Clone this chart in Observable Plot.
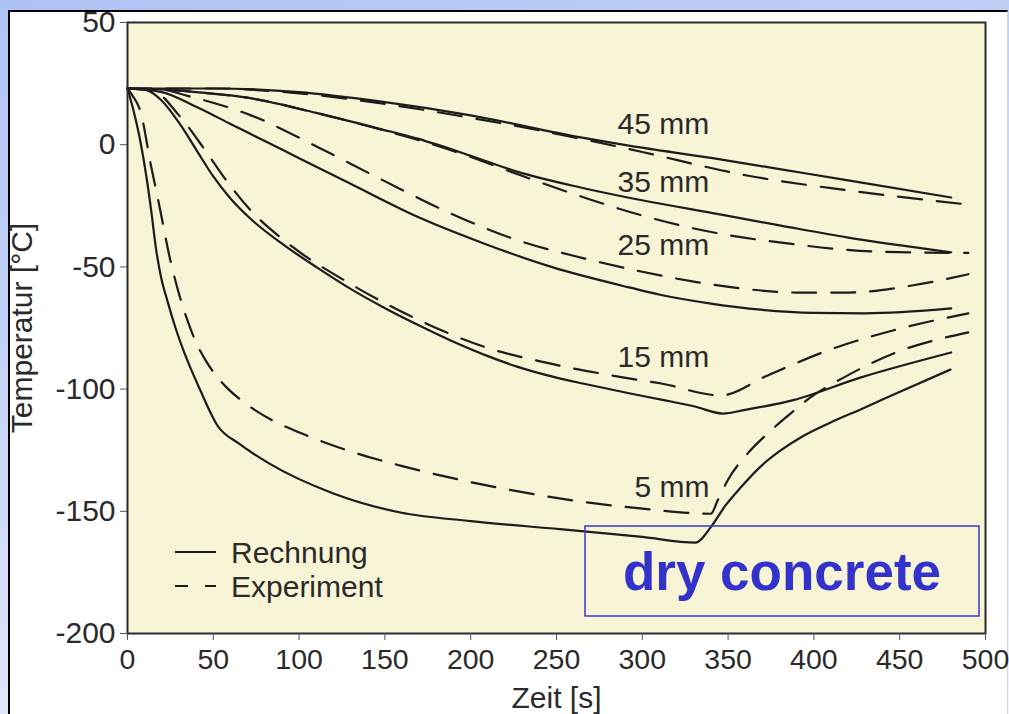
<!DOCTYPE html>
<html>
<head>
<meta charset="utf-8">
<script src="https://cdn.jsdelivr.net/npm/d3@7"></script>
<script src="https://cdn.jsdelivr.net/npm/@observablehq/plot@0.6"></script>
<style>
  html, body { margin: 0; padding: 0; }
  body {
    width: 1009px; height: 714px; overflow: hidden; position: relative;
    background: linear-gradient(165deg, #aec3f5 0%, #c9d7f8 45%, #f3f6fe 100%);
    font-family: "Liberation Sans", Arial, sans-serif;
  }
  #panel {
    position: absolute; left: 8px; top: 10px; width: 997px; height: 720px;
    background: #ffffff; border-left: 2.5px solid #000; border-top: 2.5px solid #000;
    border-right: 1px solid #d6d6d6;
  }
  #chart { position: absolute; left: 0; top: 0; }
</style>
</head>
<body>
<div id="panel"></div>
<div id="chart"></div>
<script>
// ---- data (time in s, temperature in °C) ----
const xTicks = [0, 50, 100, 150, 200, 250, 300, 350, 400, 450, 500];
const yTicks = [-200, -150, -100, -50, 0, 50];

const t5Calc = [0, 3.5, 7.6, 11, 14, 16.5, 19.5, 23.3, 28, 32.6, 42.5, 52.5, 65, 82, 120, 159, 200, 252, 300, 331, 339.8, 348.5, 357.3, 368.9, 380.6, 392.3, 409.7, 427.2, 450.5, 479.6];
const T5Calc = [23, 14, 1, -13, -28, -42, -54, -64, -75, -84.2, -100.6, -115, -122.3, -130.2, -142.7, -150.5, -154, -157.3, -160.5, -162.8, -156.6, -147.6, -140.3, -131.7, -125.1, -119.8, -113.7, -108.3, -101, -92];
const t5Exp = [0, 3, 7.6, 13.8, 18, 25, 30, 35, 40, 44.5, 50, 58, 70, 85, 101, 134, 159, 210, 260, 300, 340, 343.9, 349.7, 361.3, 373, 386.4, 398, 417.3, 446.4, 490];
const T5Exp = [23, 20, 13.5, -9, -23, -47.4, -61, -72, -81, -87, -93, -99.5, -106.5, -113, -118, -126.4, -131.3, -139.5, -145.6, -148.9, -151, -145.6, -137.4, -126.4, -118.2, -110, -103.4, -95.3, -85.4, -76.8];

const t15Calc = [0, 10, 20, 30, 40, 50, 60, 72, 91, 111, 130, 149, 170, 188, 210, 227, 250, 266, 293, 311, 330, 347, 360, 388, 427, 480];
const T15Calc = [23, 22.5, 18, 9, -2, -13, -22, -30.5, -41, -50.5, -59, -66.5, -74, -80, -86.5, -90.8, -95.3, -97.8, -101.8, -104.3, -107, -110, -108.5, -104.5, -95.3, -85];
const t15Exp = [0, 15, 30, 45, 58, 72, 91, 130, 169, 207, 246, 293, 311, 345.6, 373, 408, 446, 490];
const T15Exp = [23, 22, 12, -2, -15, -27, -39, -57, -71.5, -82.5, -89.5, -95.7, -97.7, -102.6, -94.4, -84.2, -76, -69];

const t25Calc = [0, 20, 40, 60, 80, 100, 130, 169, 208, 247, 293, 311, 340, 369, 400, 430, 480];
const T25Calc = [23, 21.5, 15.5, 8.5, 1.5, -5.5, -16, -29.5, -40.5, -50, -58.5, -61.5, -65, -67.5, -68.8, -69, -67];
const t25Exp = [0, 20, 35, 72, 111, 149, 188, 227, 266, 300, 330, 360, 390, 420, 458, 490];
const T25Exp = [23, 22.5, 20, 12, -1, -14.6, -28, -39, -46.5, -52, -56, -59, -60.5, -60.5, -57.5, -53];

const t35Calc = [0, 15, 40, 72, 110, 147, 169, 200, 227, 264, 293, 341, 380, 420, 480];
const T35Calc = [23, 22.8, 21.5, 19, 13, 6.5, 2.5, -4.5, -11, -17.5, -21.8, -28, -33, -38, -44];
const t35Exp = [0, 15, 40, 72, 110, 147, 169, 200, 227, 270, 300, 322, 350, 380, 439, 490];
const T35Exp = [23, 22.8, 21.5, 19, 13, 6.3, 2, -5, -12, -22.5, -29, -33, -37, -40, -43.8, -44.3];

const t45Calc = [0, 50, 100, 147, 200, 264, 293, 341, 380, 420, 480];
const T45Calc = [23, 23, 21.5, 17.7, 12, 3, -0.5, -5.5, -10, -14.6, -21.6];
const t45Exp = [0, 50, 100, 147, 200, 264, 300, 361, 420, 490];
const T45Exp = [23, 23, 21, 17, 11, 2.5, -3, -12.6, -18.7, -24.5];

const depthNames = ["5 mm", "15 mm", "25 mm", "35 mm", "45 mm"];
const labelT = [295.5, 285.6, 285.6, 285.6, 285.6];
const labelTemp = [-140.3, -87, -41.2, -15.5, 8.3];
const legendNames = ["Rechnung", "Experiment"];
const boxText = "dry concrete";

// ---- build tables ----
const calcSeries = [[t5Calc, T5Calc], [t15Calc, T15Calc], [t25Calc, T25Calc], [t35Calc, T35Calc], [t45Calc, T45Calc]];
const expSeries = [[t5Exp, T5Exp], [t15Exp, T15Exp], [t25Exp, T25Exp], [t35Exp, T35Exp], [t45Exp, T45Exp]];
function toRows(series) {
  const rows = [];
  series.forEach(([ts, Ts], i) => ts.forEach((t, j) => rows.push({depth: depthNames[i], t, T: Ts[j]})));
  return rows;
}
const calcRows = toRows(calcSeries);
const expRows = toRows(expSeries);
const labels = depthNames.map((d, i) => ({text: d, t: labelT[i], T: labelTemp[i]}));

const ink = "#1c1c1c";
const txt = "#2a2a2a";
const font = "Liberation Sans, Arial, sans-serif";
const fs = 30;

// legend drawn relative to the frame's bottom-left corner
function legendMark(index, scales, values, dim) {
  const g = d3.create("svg:g");
  const x0 = dim.marginLeft, yb = dim.height - dim.marginBottom;
  legendNames.forEach((name, i) => {
    const y = yb - 81 + i * 34;
    g.append("line").attr("x1", x0 + 48).attr("x2", x0 + 89).attr("y1", y).attr("y2", y)
      .attr("stroke", ink).attr("stroke-width", 2.2)
      .attr("stroke-dasharray", i === 1 ? "13,17" : null);
    g.append("text").attr("x", x0 + 104).attr("y", y).attr("dy", "0.36em")
      .attr("text-anchor", "start")
      .attr("fill", txt).attr("font-size", fs).attr("font-family", font).text(name);
  });
  return g.node();
}
// blue annotation box relative to the frame's bottom-right corner
function boxMark(index, scales, values, dim) {
  const g = d3.create("svg:g");
  const xr = dim.width - dim.marginRight, yb = dim.height - dim.marginBottom;
  g.append("rect").attr("x", xr - 400).attr("y", yb - 107).attr("width", 394).attr("height", 90)
    .attr("fill", "none").attr("stroke", "#3838d0").attr("stroke-width", 1.5);
  g.append("text").attr("x", xr - 203).attr("y", yb - 43).attr("text-anchor", "middle")
    .attr("fill", "#3333cc").attr("font-size", 53).attr("font-weight", "bold")
    .attr("font-family", font).text(boxText);
  return g.node();
}

const chart = Plot.plot({
  width: 1009,
  height: 714,
  marginLeft: 127,
  marginRight: 24,
  marginTop: 22,
  marginBottom: 81,
  style: {background: "transparent", fontFamily: font, fontSize: fs + "px", color: txt},
  x: {domain: [0, 500], label: null},
  y: {domain: [-200, 50], label: null},
  marks: [
    Plot.frame({fill: "#f8f4d6", stroke: null}),
    Plot.line(calcRows, {x: "t", y: "T", z: "depth", stroke: ink, strokeWidth: 2.2, curve: "monotone-x"}),
    Plot.line(expRows, {x: "t", y: "T", z: "depth", stroke: ink, strokeWidth: 2.2, strokeDasharray: "24,15", curve: "monotone-x"}),
    Plot.text(labels, {x: "t", y: "T", text: "text", textAnchor: "start", lineAnchor: "middle", fontSize: fs, fill: txt}),
    legendMark,
    boxMark,
    Plot.frame({stroke: "#2b2b2b", strokeWidth: 2}),
    Plot.axisX({ticks: xTicks, tickFormat: d => String(d), tickSize: 7, tickPadding: 8, stroke: "#555", fill: txt, fontSize: 28.5, label: null}),
    Plot.axisY({ticks: yTicks, tickFormat: d => String(d), tickSize: 7, tickPadding: 5, stroke: "#555", fill: txt, fontSize: fs, label: null}),
    Plot.text(["Temperatur [°C]"], {frameAnchor: "left", dx: -105, rotate: -90, textAnchor: "middle", text: d => d, fontSize: fs, fill: txt}),
    Plot.text(["Zeit [s]"], {frameAnchor: "bottom", dy: 74, lineAnchor: "bottom", text: d => d, fontSize: fs, fill: txt})
  ]
});
document.getElementById("chart").appendChild(chart);
</script>
</body>
</html>
